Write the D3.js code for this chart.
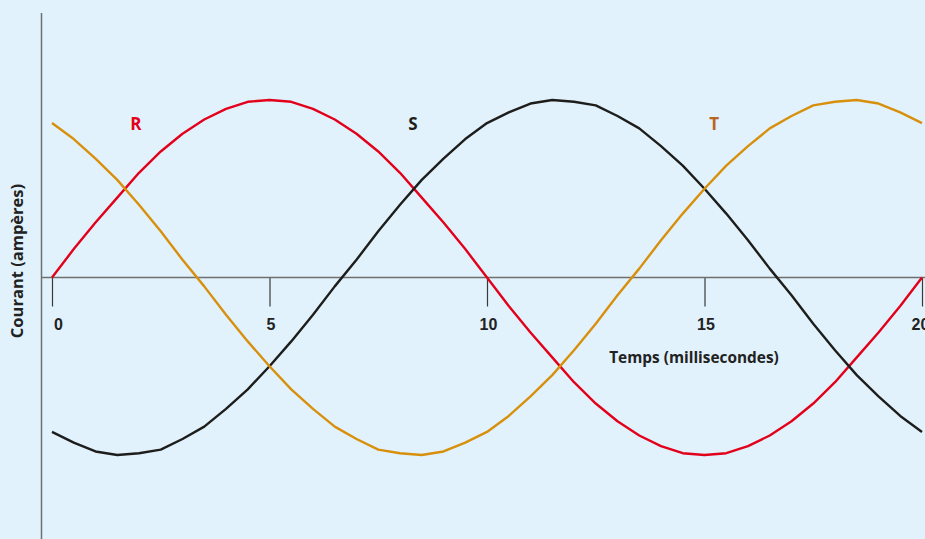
<!DOCTYPE html>
<html>
<head>
<meta charset="utf-8">
<script src="https://cdn.jsdelivr.net/npm/d3@7"></script>
<style>
  html, body { margin: 0; padding: 0; background: #e1f2fc; }
  svg { display: block; font-family: "Open Sans", sans-serif; }
  .curve { fill: none; stroke-width: 2.4; stroke-linejoin: round; }
</style>
</head>
<body>
<div id="chart"></div>
<script>
// temps en ms, pas de 0.5
var temps = [0, 0.5, 1, 1.5, 2, 2.5, 3, 3.5, 4, 4.5, 5, 5.5, 6, 6.5, 7, 7.5, 8, 8.5, 9, 9.5,
  10, 10.5, 11, 11.5, 12, 12.5, 13, 13.5, 14, 14.5, 15, 15.5, 16, 16.5, 17, 17.5, 18, 18.5, 19, 19.5, 20];

var phaseR = [0, 0.16, 0.31, 0.45, 0.59, 0.71, 0.81, 0.89, 0.95, 0.99, 1, 0.99, 0.95, 0.89, 0.81, 0.71,
  0.59, 0.45, 0.31, 0.16, 0, -0.16, -0.31, -0.45, -0.59, -0.71, -0.81, -0.89, -0.95, -0.99, -1,
  -0.99, -0.95, -0.89, -0.81, -0.71, -0.59, -0.45, -0.31, -0.16, 0];

var phaseS = [-0.87, -0.93, -0.98, -1, -0.99, -0.97, -0.91, -0.84, -0.74, -0.63, -0.5, -0.36, -0.21,
  -0.05, 0.1, 0.26, 0.41, 0.55, 0.67, 0.78, 0.87, 0.93, 0.98, 1, 0.99, 0.97, 0.91, 0.84, 0.74, 0.63,
  0.5, 0.36, 0.21, 0.05, -0.1, -0.26, -0.41, -0.55, -0.67, -0.78, -0.87];

var phaseT = [0.87, 0.78, 0.67, 0.55, 0.41, 0.26, 0.1, -0.05, -0.21, -0.36, -0.5, -0.63, -0.74, -0.84,
  -0.91, -0.97, -0.99, -1, -0.98, -0.93, -0.87, -0.78, -0.67, -0.55, -0.41, -0.26, -0.1, 0.05, 0.21,
  0.36, 0.5, 0.63, 0.74, 0.84, 0.91, 0.97, 0.99, 1, 0.98, 0.93, 0.87];

var xTicks = [0, 5, 10, 15, 20];

var series = [
  {name: "R", values: phaseR, color: "#e3001b", label: "#e3001b", lx: 1.93, ly: 0.855},
  {name: "S", values: phaseS, color: "#1d1d1b", label: "#1d1d1b", lx: 8.3, ly: 0.855},
  {name: "T", values: phaseT, color: "#d8900c", label: "#b96520", lx: 15.22, ly: 0.855}
];

var width = 925, height = 539;

var xScale = d3.scaleLinear()
  .domain([0, 20])
  .range([52, 922]);

var yScale = d3.scaleLinear()
  .domain([-1, 1])
  .range([455, 100]);

var svg = d3.select("#chart").append("svg")
  .attr("width", width)
  .attr("height", height);

svg.append("rect")
  .attr("width", width)
  .attr("height", height)
  .attr("fill", "#e1f2fc");

// axe vertical
svg.append("line")
  .attr("x1", 41.5).attr("x2", 41.5)
  .attr("y1", 13).attr("y2", height)
  .attr("stroke", "#6f6f6f")
  .attr("stroke-width", 1.5);

// axe horizontal + graduations
var xAxis = svg.append("g")
  .attr("transform", "translate(0," + yScale(0) + ")")
  .call(d3.axisBottom(xScale).tickValues(xTicks).tickSize(29).tickPadding(12));

xAxis.select(".domain").remove();
xAxis.selectAll(".tick line").attr("stroke", "#3a3a3a").attr("stroke-width", 1.2);
xAxis.selectAll(".tick text")
  .attr("fill", "#222")
  .style("font-size", "16px")
  .style("font-weight", "700")
  .attr("dx", function(d) { return d === 0 ? 6 : (d === 20 ? -2 : 1); });

svg.append("line")
  .attr("x1", 41).attr("x2", width)
  .attr("y1", yScale(0)).attr("y2", yScale(0))
  .attr("stroke", "#6f6f6f")
  .attr("stroke-width", 1.5);

var line = d3.line()
  .x(function(d, i) { return xScale(temps[i]); })
  .y(function(d) { return yScale(d); });

svg.selectAll(".curve")
  .data(series)
  .enter().append("path")
  .attr("class", "curve")
  .attr("stroke", function(d) { return d.color; })
  .attr("d", function(d) { return line(d.values); });

svg.selectAll(".phase")
  .data(series)
  .enter().append("text")
  .attr("class", "phase")
  .attr("x", function(d) { return xScale(d.lx); })
  .attr("y", function(d) { return yScale(d.ly); })
  .attr("text-anchor", "middle")
  .attr("dominant-baseline", "middle")
  .attr("fill", function(d) { return d.label; })
  .style("font-size", "17px")
  .style("font-weight", "700")
  .text(function(d) { return d.name; });

svg.append("text")
  .attr("x", 694)
  .attr("y", 363)
  .attr("text-anchor", "middle")
  .attr("fill", "#222")
  .style("font-size", "15.4px")
  .style("font-weight", "700")
  .text("Temps (millisecondes)");

svg.append("text")
  .attr("transform", "translate(23,261) rotate(-90)")
  .attr("text-anchor", "middle")
  .attr("fill", "#222")
  .style("font-size", "16.5px")
  .style("font-weight", "700")
  .text("Courant (ampères)");
</script>
</body>
</html>
